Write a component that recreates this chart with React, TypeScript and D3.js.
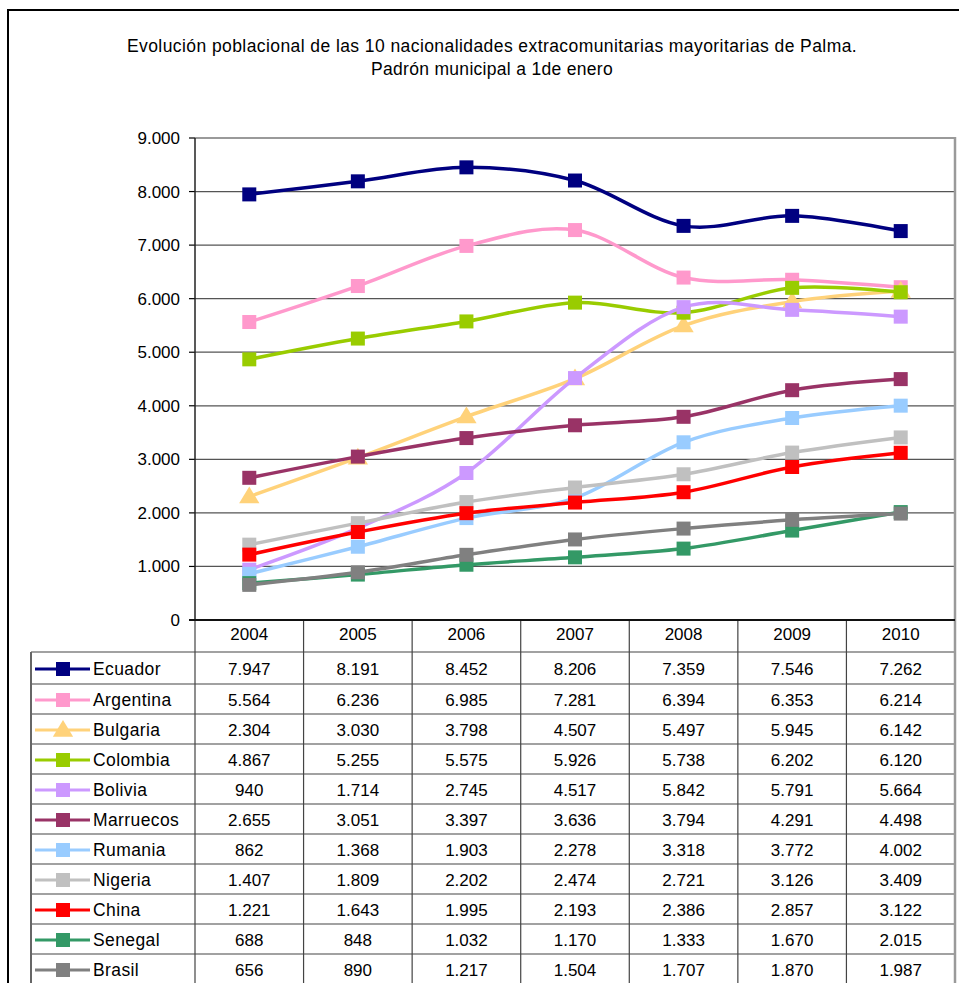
import React from "react";
import * as d3 from "d3";

const years = ["2004", "2005", "2006", "2007", "2008", "2009", "2010"];
const seriesNames = ["Ecuador", "Argentina", "Bulgaria", "Colombia", "Bolivia", "Marruecos", "Rumania", "Nigeria", "China", "Senegal", "Brasil"];
const ecuador = [7947, 8191, 8452, 8206, 7359, 7546, 7262];
const argentina = [5564, 6236, 6985, 7281, 6394, 6353, 6214];
const bulgaria = [2304, 3030, 3798, 4507, 5497, 5945, 6142];
const colombia = [4867, 5255, 5575, 5926, 5738, 6202, 6120];
const bolivia = [940, 1714, 2745, 4517, 5842, 5791, 5664];
const marruecos = [2655, 3051, 3397, 3636, 3794, 4291, 4498];
const rumania = [862, 1368, 1903, 2278, 3318, 3772, 4002];
const nigeria = [1407, 1809, 2202, 2474, 2721, 3126, 3409];
const china = [1221, 1643, 1995, 2193, 2386, 2857, 3122];
const senegal = [688, 848, 1032, 1170, 1333, 1670, 2015];
const brasil = [656, 890, 1217, 1504, 1707, 1870, 1987];
const seriesValues = [ecuador, argentina, bulgaria, colombia, bolivia, marruecos, rumania, nigeria, china, senegal, brasil];
const seriesColors = ["#000080", "#FF99CC", "#FFD27A", "#99CC00", "#CC99FF", "#993366", "#99CCFF", "#C0C0C0", "#FF0000", "#339966", "#808080"];
const seriesMarkers = ["square", "square", "triangle", "square", "square", "square", "square", "square", "square", "square", "square"];
const yTicks = [0, 1000, 2000, 3000, 4000, 5000, 6000, 7000, 8000, 9000];
const titleLines = [
  "Evolución poblacional de las 10 nacionalidades extracomunitarias mayoritarias de Palma.",
  "Padrón municipal a 1de enero",
];

const W = 959;
const H = 983;
const plotLeft = 195;
const plotRight = 955;
const plotTop = 138;
const plotBottom = 620;
const tableLeft = 31;
const headerBottom = 652;
const firstRowBottom = 684;
const rowH = 30;
const FONT = "'Liberation Sans', Arial, sans-serif";

const loc = d3.formatLocale({ decimal: ",", thousands: ".", grouping: [3], currency: ["", ""] });
const fmt = loc.format(",d");

function Marker({ type, x, y, color, size }: { type: string; x: number; y: number; color: string; size: number }) {
  if (type === "triangle") {
    const w = size * 1.45;
    const h = size * 1.2;
    const p = `M${x},${y - h * 0.6} L${x + w / 2},${y + h * 0.4} L${x - w / 2},${y + h * 0.4} Z`;
    return <path d={p} fill={color} />;
  }
  return <rect x={x - size / 2} y={y - size / 2} width={size} height={size} fill={color} />;
}

export default function App() {
  const x = d3.scaleBand().domain(years).range([plotLeft, plotRight]);
  const y = d3.scaleLinear().domain([0, 9000]).range([plotBottom, plotTop]);
  const cx = (yr: string) => (x(yr) as number) + x.bandwidth() / 2;
  const line = d3
    .line<number>()
    .x((_, i) => cx(years[i]))
    .y((d) => y(d))
    .curve(d3.curveCardinal.tension(0));

  const rowTop = (i: number) => (i === 0 ? headerBottom : firstRowBottom + rowH * (i - 1));
  const rowBottom = (i: number) => (i === 0 ? firstRowBottom : firstRowBottom + rowH * i);
  const rowMid = (i: number) => (rowTop(i) + rowBottom(i)) / 2;
  const tableBottom = rowBottom(seriesNames.length - 1) + 10;

  return (
    <svg width={W} height={H} style={{ position: "fixed", left: 0, top: 0, background: "#fff" }} fontFamily={FONT}>
      <rect x={0} y={0} width={W} height={H} fill="#fff" />
      {/* outer frame */}
      <path d={`M8,${H + 10} L8,10 L${W + 10},10`} fill="none" stroke="#000" strokeWidth={2} />
      {/* title */}
      {titleLines.map((t, i) => (
        <text key={i} x={492} y={51.5 + i * 23.5} textAnchor="middle" fontSize={17.5} fill="#000" letterSpacing={i === 0 ? 0.42 : 0.3}>
          {t}
        </text>
      ))}
      {/* gridlines */}
      {yTicks.map((t) =>
        t === 0 ? null : (
          <line key={t} x1={plotLeft} x2={plotRight} y1={y(t)} y2={y(t)} stroke={t === 9000 ? "#9a9a9a" : "#555"} strokeWidth={t === 9000 ? 2 : 1.2} />
        )
      )}
      {/* y ticks */}
      {yTicks.map((t) => (
        <g key={"t" + t}>
          <line x1={plotLeft - 6} x2={plotLeft} y1={y(t)} y2={y(t)} stroke="#000" strokeWidth={1.2} />
          <text x={180} y={y(t) + 6} textAnchor="end" fontSize={17} fill="#000">
            {fmt(t)}
          </text>
        </g>
      ))}
      {/* y axis */}
      <line x1={plotLeft} x2={plotLeft} y1={plotTop} y2={plotBottom} stroke="#222" strokeWidth={1.5} />
      {/* table */}
      <g stroke="#444" strokeWidth={1.2}>
        {years.map((yr) => (
          <line key={yr} x1={x(yr) as number} x2={x(yr) as number} y1={plotBottom} y2={tableBottom} />
        ))}
        <line x1={tableLeft} x2={plotRight} y1={headerBottom} y2={headerBottom} />
        {seriesNames.map((n, i) => (
          <line key={n} x1={tableLeft} x2={plotRight} y1={rowBottom(i)} y2={rowBottom(i)} />
        ))}
      </g>
      <line x1={tableLeft} x2={tableLeft} y1={headerBottom} y2={tableBottom} stroke="#666" strokeWidth={2} />
      <line x1={plotRight} x2={plotRight} y1={plotTop - 1} y2={tableBottom} stroke="#9a9a9a" strokeWidth={2.5} />
      {/* x axis */}
      <line x1={plotLeft - 6} x2={plotRight} y1={plotBottom} y2={plotBottom} stroke="#111" strokeWidth={1.8} />
      {years.map((yr) => (
        <text key={yr} x={cx(yr)} y={640} textAnchor="middle" fontSize={17} fill="#000">
          {yr}
        </text>
      ))}
      {seriesNames.map((n, i) => (
        <g key={n}>
          <line x1={35} x2={90} y1={rowMid(i) + 1} y2={rowMid(i) + 1} stroke={seriesColors[i]} strokeWidth={3} />
          <Marker type={seriesMarkers[i]} x={63} y={rowMid(i) + 1} color={seriesColors[i]} size={14} />
          <text x={93} y={rowMid(i) + 6.5} fontSize={17.5} fill="#000" letterSpacing={0.4}>
            {n}
          </text>
          {seriesValues[i].map((v, j) => (
            <text key={j} x={cx(years[j])} y={rowMid(i) + 6.5} textAnchor="middle" fontSize={17} fill="#000">
              {fmt(v)}
            </text>
          ))}
        </g>
      ))}
      {/* series */}
      {seriesNames.map((n, i) => (
        <g key={"s" + n}>
          <path d={line(seriesValues[i]) as string} fill="none" stroke={seriesColors[i]} strokeWidth={3.5} strokeLinejoin="round" />
          {seriesValues[i].map((v, j) => (
            <Marker key={j} type={seriesMarkers[i]} x={cx(years[j])} y={y(v)} color={seriesColors[i]} size={14} />
          ))}
        </g>
      ))}
    </svg>
  );
}
